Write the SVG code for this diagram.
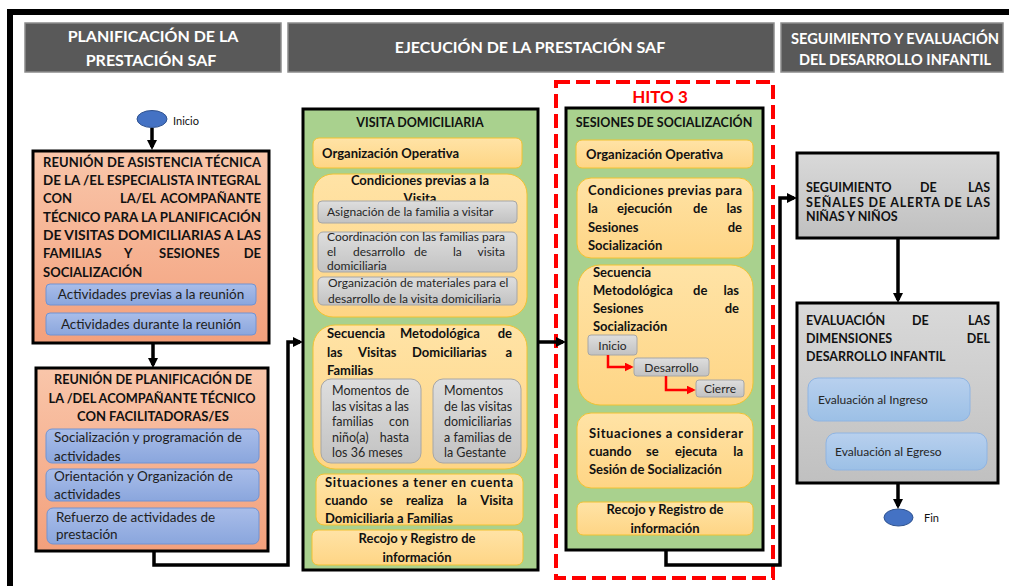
<svg xmlns="http://www.w3.org/2000/svg" width="1009" height="586" viewBox="0 0 1009 586">
<defs>
<linearGradient id="gSalmon" x1="0" y1="0" x2="0" y2="1"><stop offset="0" stop-color="#f9c6aa"/><stop offset="1" stop-color="#f3a07c"/></linearGradient>
<linearGradient id="gBlue" x1="0" y1="0" x2="0" y2="1"><stop offset="0" stop-color="#a9bde9"/><stop offset="1" stop-color="#8aa6dd"/></linearGradient>
<linearGradient id="gOrange" x1="0" y1="0" x2="0" y2="1"><stop offset="0" stop-color="#ffe3a6"/><stop offset="1" stop-color="#fed585"/></linearGradient>
<linearGradient id="gGray" x1="0" y1="0" x2="0" y2="1"><stop offset="0" stop-color="#dedede"/><stop offset="1" stop-color="#c2c2c2"/></linearGradient>
<linearGradient id="gGrayBox" x1="0" y1="0" x2="0" y2="1"><stop offset="0" stop-color="#d9d9d9"/><stop offset="1" stop-color="#c0c0c0"/></linearGradient>
<linearGradient id="gLBlue" x1="0" y1="0" x2="0" y2="1"><stop offset="0" stop-color="#b8d0ee"/><stop offset="1" stop-color="#9cc0e6"/></linearGradient>
<marker id="ah" viewBox="0 0 10 10" refX="7" refY="5" markerWidth="10" markerHeight="10" markerUnits="userSpaceOnUse" orient="auto"><path d="M0,0 L10,5 L0,10 z" fill="#000"/></marker>
<marker id="ahr" viewBox="0 0 10 10" refX="7" refY="5" markerWidth="9" markerHeight="9" markerUnits="userSpaceOnUse" orient="auto"><path d="M0,0 L10,5 L0,10 z" fill="#ff0000"/></marker>
<style>
text{font-family:Lato,"Liberation Sans",sans-serif;fill:#111}
.hdr{fill:#595959;stroke:#8c8c8c;stroke-width:1.5}
.ht{fill:#fff;font-weight:bold;font-size:16px;text-anchor:middle}
.salmon{fill:url(#gSalmon);stroke:#000;stroke-width:3}
.green{fill:#a9d18e;stroke:#000;stroke-width:3}
.graybox{fill:url(#gGrayBox);stroke:#000;stroke-width:3}
.blue{fill:url(#gBlue);stroke:#7193d3;stroke-width:1}
.orange{fill:url(#gOrange);stroke:#f2c230;stroke-width:1}
.gray{fill:url(#gGray);stroke:#a6a6a6;stroke-width:1}
.lblue{fill:url(#gLBlue);stroke:#8fb4e2;stroke-width:1}
.b14{font-weight:bold;font-size:13px}
.b13{font-weight:bold;font-size:12.5px}
.r13{font-size:13.5px;fill:#1e1e1e}
.r12{font-size:12px;fill:#262626}
.r125{font-size:12.5px;fill:#262626}
.mid{text-anchor:middle}
.end{text-anchor:end}
.conn{fill:none;stroke:#000;stroke-width:3.5}
.rconn{fill:none;stroke:#ff0000;stroke-width:2.5}
.ell{fill:#4472c4;stroke:#2f528f;stroke-width:1}
</style>
</defs>

<path d="M10,586 V12 H1009" fill="none" stroke="#000" stroke-width="6"/>

<g id="header-planificacion">
<rect class="hdr" x="25" y="23" width="256" height="49"/>
<text class="ht" x="153" y="41.5">PLANIFICACIÓN DE LA</text>
<text class="ht" x="151" y="65.5">PRESTACIÓN SAF</text>
</g>
<g id="header-ejecucion">
<rect class="hdr" x="288" y="23" width="486" height="49"/>
<text class="ht" x="530" y="53">EJECUCIÓN DE LA PRESTACIÓN SAF</text>
</g>
<g id="header-seguimiento">
<rect class="hdr" x="781" y="23" width="222" height="49"/>
<text class="ht" x="895" y="43.5" style="font-size:14.5px" textLength="208" lengthAdjust="spacingAndGlyphs">SEGUIMIENTO Y EVALUACIÓN</text>
<text class="ht" x="895" y="64.5" style="font-size:14.5px" textLength="192" lengthAdjust="spacingAndGlyphs">DEL DESARROLLO INFANTIL</text>
</g>

<g id="inicio">
<ellipse class="ell" cx="152" cy="119" rx="15" ry="8.5"/>
<text x="173" y="125" style="font-size:11px">Inicio</text>
</g>

<g id="reunion-asistencia">
<rect class="salmon" x="33" y="151" width="236" height="192"/>
<text class="b14" x="43" y="167" textLength="218" lengthAdjust="spacing">REUNIÓN DE ASISTENCIA TÉCNICA</text>
<text class="b14" x="43" y="185" textLength="218" lengthAdjust="spacingAndGlyphs">DE LA /EL ESPECIALISTA INTEGRAL</text>
<text class="b14" x="43" y="203">CON</text><text class="b14" x="120" y="203">LA/EL</text><text class="b14 end" x="261" y="203">ACOMPAÑANTE</text>
<text class="b14" x="43" y="222" textLength="218" lengthAdjust="spacingAndGlyphs">TÉCNICO PARA LA PLANIFICACIÓN</text>
<text class="b14" x="43" y="240" textLength="218" lengthAdjust="spacingAndGlyphs">DE VISITAS DOMICILIARIAS A LAS</text>
<text class="b14" x="43" y="258">FAMILIAS</text><text class="b14" x="124" y="258">Y</text><text class="b14" x="159" y="258">SESIONES</text><text class="b14 end" x="261" y="258">DE</text>
<text class="b14" x="43" y="277">SOCIALIZACIÓN</text>
<rect class="blue" x="46" y="284" width="210" height="21" rx="4"/>
<text class="r13 mid" x="151" y="299">Actividades previas a la reunión</text>
<rect class="blue" x="46" y="313" width="210" height="22" rx="4"/>
<text class="r13 mid" x="151" y="328.5">Actividades durante la reunión</text>
</g>

<g id="reunion-planificacion">
<rect class="salmon" x="36" y="368" width="232" height="183"/>
<text class="b14 mid" x="153" y="384" textLength="198" lengthAdjust="spacingAndGlyphs">REUNIÓN DE PLANIFICACIÓN DE</text>
<text class="b14 mid" x="152" y="403" textLength="207" lengthAdjust="spacingAndGlyphs">LA /DEL ACOMPAÑANTE TÉCNICO</text>
<text class="b14 mid" x="153" y="421">CON FACILITADORAS/ES</text>
<rect class="blue" x="46" y="429" width="213" height="34" rx="6"/>
<text class="r13" x="54" y="442">Socialización y programación de</text>
<text class="r13" x="54" y="461">actividades</text>
<rect class="blue" x="46" y="469" width="213" height="32" rx="6"/>
<text class="r13" x="54" y="481">Orientación y Organización de</text>
<text class="r13" x="54" y="499">actividades</text>
<rect class="blue" x="47" y="508" width="212" height="36" rx="6"/>
<text class="r13" x="56" y="522">Refuerzo de actividades de</text>
<text class="r13" x="56" y="539">prestación</text>
</g>

<g id="visita-domiciliaria">
<rect class="green" x="303" y="109" width="235" height="461"/>
<text class="b13 mid" x="420" y="127">VISITA DOMICILIARIA</text>
<rect class="orange" x="313" y="138" width="209" height="30" rx="6"/>
<text class="b14" x="322" y="158">Organización Operativa</text>
<rect class="orange" x="313" y="174" width="214" height="143" rx="20"/>
<text class="b14 mid" x="420" y="185">Condiciones previas a la</text>
<text class="b14 mid" x="420" y="203">Visita</text>
<rect class="gray" x="318" y="201" width="199" height="22" rx="4"/>
<text class="r12" x="327" y="216">Asignación de la familia a visitar</text>
<rect class="gray" x="318" y="232" width="199" height="40" rx="5"/>
<text class="r12" x="327" y="241" textLength="178" lengthAdjust="spacing">Coordinación con las familias para</text>
<text class="r12" x="327" y="256">el</text><text class="r12" x="353" y="256">desarrollo</text><text class="r12" x="414" y="256">de</text><text class="r12" x="453" y="256">la</text><text class="r12 end" x="505" y="256">visita</text>
<text class="r12" x="327" y="270">domiciliaria</text>
<rect class="gray" x="318" y="277" width="199" height="28" rx="5"/>
<text class="r12" x="328" y="287">Organización de materiales para el</text>
<text class="r12" x="328" y="303">desarrollo de la visita domiciliaria</text>
<rect class="orange" x="313" y="325" width="214" height="144" rx="22"/>
<text class="b14" x="327" y="338">Secuencia</text><text class="b14" x="400" y="338">Metodológica</text><text class="b14 end" x="512" y="338">de</text>
<text class="b14" x="327" y="357">las</text><text class="b14" x="358" y="357">Visitas</text><text class="b14" x="412" y="357">Domiciliarias</text><text class="b14 end" x="512" y="357">a</text>
<text class="b14" x="327" y="375">Familias</text>
<rect class="gray" x="321" y="379" width="100" height="84" rx="10"/>
<text class="r125" x="332" y="395">Momentos</text><text class="r125 end" x="409" y="395">de</text>
<text class="r125" x="332" y="410.5" textLength="77" lengthAdjust="spacing">las visitas a las</text>
<text class="r125" x="332" y="426">familias</text><text class="r125 end" x="409" y="426">con</text>
<text class="r125" x="332" y="441.5">niño(a)</text><text class="r125 end" x="409" y="441.5">hasta</text>
<text class="r125" x="332" y="457">los 36 meses</text>
<rect class="gray" x="433" y="379" width="88" height="84" rx="10"/>
<text class="r125" x="444" y="395">Momentos</text>
<text class="r125" x="444" y="410.5">de las visitas</text>
<text class="r125" x="444" y="426">domiciliarias</text>
<text class="r125" x="444" y="441.5">a familias de</text>
<text class="r125" x="444" y="457">la Gestante</text>
<rect class="orange" x="316" y="474" width="207" height="51" rx="8"/>
<text class="b14" x="325" y="487" textLength="188" lengthAdjust="spacing">Situaciones a tener en cuenta</text>
<text class="b14" x="325" y="505">cuando</text><text class="b14" x="380" y="505">se</text><text class="b14" x="406" y="505">realiza</text><text class="b14" x="457" y="505">la</text><text class="b14 end" x="513" y="505">Visita</text>
<text class="b14" x="325" y="523">Domiciliaria a Familias</text>
<rect class="orange" x="312" y="530" width="211" height="35" rx="6"/>
<text class="b14 mid" x="417" y="543">Recojo y Registro de</text>
<text class="b14 mid" x="417" y="562">información</text>
</g>

<g id="hito-3">
<rect x="556" y="82" width="217" height="496" fill="none" stroke="#ff0000" stroke-width="4" stroke-dasharray="14 6"/>
<text x="660" y="103" style="font-size:17px;font-weight:bold;fill:#ff0000;text-anchor:middle">HITO 3</text>
</g>

<g id="sesiones-socializacion">
<rect class="green" x="566" y="108" width="197" height="442"/>
<text class="b13 mid" x="664" y="127">SESIONES DE SOCIALIZACIÓN</text>
<rect class="orange" x="576" y="140" width="177" height="28" rx="6"/>
<text class="b14" x="586" y="159">Organización Operativa</text>
<rect class="orange" x="577" y="178" width="176" height="80" rx="14"/>
<text class="b14" x="588" y="195" textLength="154" lengthAdjust="spacing">Condiciones previas para</text>
<text class="b14" x="588" y="213">la</text><text class="b14" x="617" y="213">ejecución</text><text class="b14" x="693" y="213">de</text><text class="b14 end" x="742" y="213">las</text>
<text class="b14" x="588" y="232">Sesiones</text><text class="b14 end" x="742" y="232">de</text>
<text class="b14" x="588" y="250">Socialización</text>
<rect class="orange" x="578" y="265" width="175" height="140" rx="22"/>
<text class="b14" x="593" y="277">Secuencia</text>
<text class="b14" x="593" y="295">Metodológica</text><text class="b14" x="693" y="295">de</text><text class="b14 end" x="739" y="295">las</text>
<text class="b14" x="593" y="313">Sesiones</text><text class="b14 end" x="739" y="313">de</text>
<text class="b14" x="593" y="331">Socialización</text>
<rect class="gray" x="588" y="335" width="49" height="20" rx="3"/>
<text class="r12 mid" x="612.5" y="349.5">Inicio</text>
<rect class="gray" x="634" y="358" width="75" height="18" rx="3"/>
<text class="r12 mid" x="671.5" y="371.5">Desarrollo</text>
<rect class="gray" x="696" y="380" width="48" height="17" rx="3"/>
<text class="r12 mid" x="720" y="393">Cierre</text>
<path class="rconn" d="M608,355 V367 H631" marker-end="url(#ahr)"/>
<path class="rconn" d="M666,376 V390 H693" marker-end="url(#ahr)"/>
<rect class="orange" x="577" y="413" width="176" height="75" rx="14"/>
<text class="b14" x="589" y="438" textLength="154" lengthAdjust="spacing">Situaciones a considerar</text>
<text class="b14" x="589" y="456">cuando</text><text class="b14" x="646" y="456">se</text><text class="b14" x="675" y="456">ejecuta</text><text class="b14 end" x="743" y="456">la</text>
<text class="b14" x="589" y="474">Sesión de Socialización</text>
<rect class="orange" x="577" y="502" width="176" height="33" rx="6"/>
<text class="b14 mid" x="665" y="514">Recojo y Registro de</text>
<text class="b14 mid" x="665" y="533">información</text>
</g>

<g id="seguimiento-senales">
<rect class="graybox" x="797" y="153" width="201" height="85"/>
<text class="b13" x="806" y="192">SEGUIMIENTO</text><text class="b13" x="920" y="192">DE</text><text class="b13 end" x="990" y="192">LAS</text>
<text class="b13" x="806" y="207" textLength="184" lengthAdjust="spacing">SEÑALES DE ALERTA DE LAS</text>
<text class="b13" x="806" y="221">NIÑAS Y NIÑOS</text>
</g>

<g id="evaluacion-dimensiones">
<rect class="graybox" x="797" y="303" width="201" height="180"/>
<text class="b13" x="806" y="324.5">EVALUACIÓN</text><text class="b13" x="912" y="324.5">DE</text><text class="b13 end" x="990" y="324.5">LAS</text>
<text class="b13" x="806" y="342.5">DIMENSIONES</text><text class="b13 end" x="990" y="342.5">DEL</text>
<text class="b13" x="806" y="361">DESARROLLO INFANTIL</text>
<rect class="lblue" x="808" y="378" width="162" height="43" rx="10"/>
<text class="r12" x="818" y="404">Evaluación al Ingreso</text>
<rect class="lblue" x="826" y="433" width="161" height="37" rx="10"/>
<text class="r12" x="835" y="456">Evaluación al Egreso</text>
</g>

<g id="fin">
<ellipse class="ell" cx="898.5" cy="517.5" rx="14.5" ry="8.5"/>
<text x="924" y="522" style="font-size:11px">Fin</text>
</g>

<g id="connectors">
<path class="conn" d="M152,128 V147" marker-end="url(#ah)"/>
<path class="conn" d="M153,343 V365" marker-end="url(#ah)"/>
<path class="conn" d="M154,551 V565 H288 V342 H300" marker-end="url(#ah)"/>
<path class="conn" d="M538,342 H563" marker-end="url(#ah)"/>
<path class="conn" d="M666,550 V565 H780 V198 H794" marker-end="url(#ah)"/>
<path class="conn" d="M898,238 V300" marker-end="url(#ah)"/>
<path class="conn" d="M898,483 V506" marker-end="url(#ah)"/>
</g>
</svg>
